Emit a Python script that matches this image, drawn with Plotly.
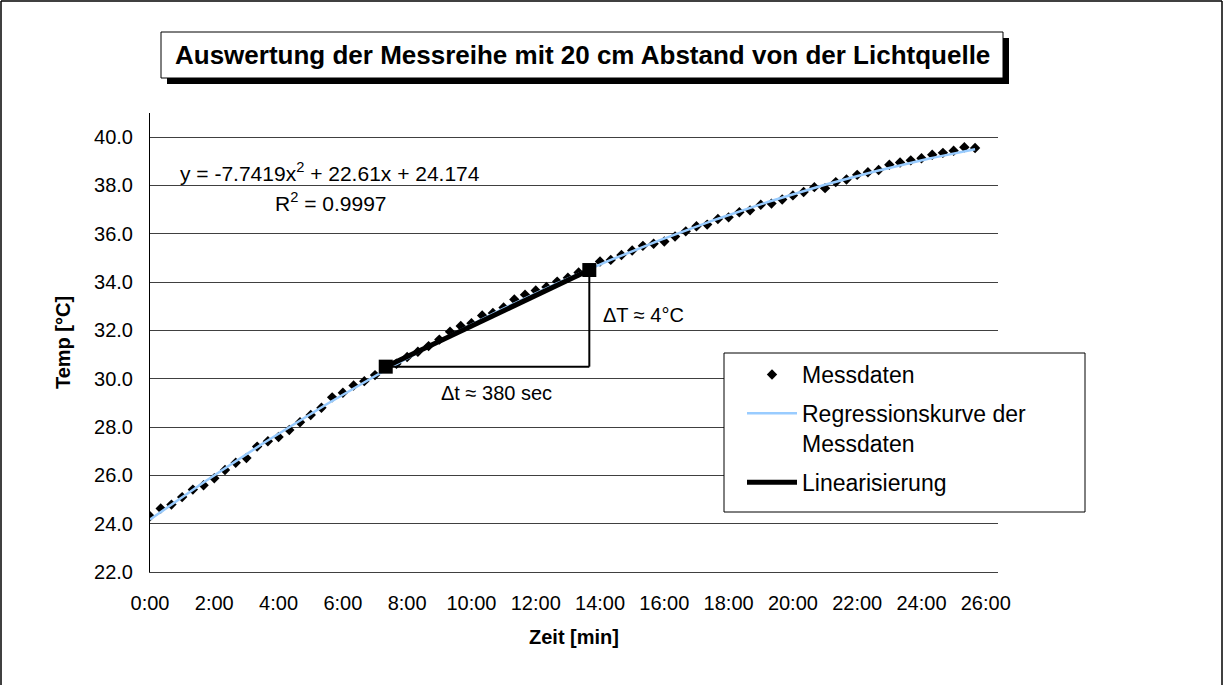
import numpy as np
import plotly.graph_objects as go

# ---------------- data ----------------
zeit_sec = [0, 20, 40, 60, 80, 100, 120, 140, 160, 180, 200, 220, 240, 260, 280, 300,
            320, 340, 360, 380, 400, 420, 440, 460, 480, 500, 520, 540, 560, 580, 600,
            620, 640, 660, 680, 700, 720, 740, 760, 780, 800, 820, 840, 860, 880, 900,
            920, 940, 960, 980, 1000, 1020, 1040, 1060, 1080, 1100, 1120, 1140, 1160,
            1180, 1200, 1220, 1240, 1260, 1280, 1300, 1320, 1340, 1360, 1380, 1400,
            1420, 1440, 1460, 1480, 1500, 1520, 1540]
temp_c = [24.31, 24.63, 24.79, 25.10, 25.41, 25.59, 25.88, 26.22, 26.52, 26.72,
          27.19, 27.41, 27.59, 27.88, 28.20, 28.50, 28.80, 29.23, 29.42, 29.72,
          29.90, 30.15,
          30.45, 30.62, 30.90, 31.12, 31.35, 31.62, 31.95, 32.18, 32.30, 32.62,
          32.72, 32.95, 33.28, 33.48, 33.65, 33.80, 34.02, 34.18, 34.40, 34.55,
          34.85, 34.92, 35.12, 35.31, 35.50, 35.59, 35.68, 35.89, 36.10, 36.31,
          36.38, 36.61, 36.68, 36.89, 36.97, 37.20, 37.25, 37.42,
          37.59, 37.73, 37.93, 37.89, 38.14, 38.25, 38.44, 38.55, 38.64, 38.86,
          38.95, 39.04, 39.13, 39.27, 39.35, 39.44, 39.58, 39.55]

lin_sec = [440, 820]          # 7:20 and 13:40  (delta t = 380 s)
lin_temp = [30.5, 34.5]       # delta T = 4 °C

# Excel trendline (x = displayed h:mm value in days, i.e. minutes / 24)
reg_a, reg_b, reg_c = -7.7419, 22.61, 24.174

x_tick_min = [0, 2, 4, 6, 8, 10, 12, 14, 16, 18, 20, 22, 24, 26]
x_tick_text = ["0:00", "2:00", "4:00", "6:00", "8:00", "10:00", "12:00", "14:00",
               "16:00", "18:00", "20:00", "22:00", "24:00", "26:00"]
y_ticks = [22, 24, 26, 28, 30, 32, 34, 36, 38, 40]

# ---------------- derived ----------------
t_min = [s / 60 for s in zeit_sec]
lin_min = [s / 60 for s in lin_sec]
t_fit = np.linspace(min(t_min), max(t_min), 200)
u = t_fit / 24.0
y_fit = reg_a * u ** 2 + reg_b * u + reg_c

FONT = "Liberation Sans, Arial, sans-serif"
W, H = 1224, 685
L, R, T, B = 150, 998, 113, 572


def px(x):
    return (x - L) / (R - L)


def py(y):
    return (B - y) / (B - T)


fig = go.Figure()
fig.add_trace(go.Scatter(
    x=t_min, y=temp_c, mode="markers", name="Messdaten", legendgroup="a",
    marker=dict(symbol="diamond", size=8, color="black"),
))
fig.add_trace(go.Scatter(
    x=t_fit, y=y_fit, mode="lines", name="Regressionskurve der<br>Messdaten",
    legendgroup="b", line=dict(color="#99CCFF", width=2.5),
))
fig.add_trace(go.Scatter(
    x=lin_min, y=lin_temp, mode="lines", name="Linearisierung", legendgroup="c",
    line=dict(color="black", width=5),
))
fig.add_trace(go.Scatter(
    x=lin_min, y=lin_temp, mode="markers", showlegend=False, legendgroup="c",
    marker=dict(symbol="square", size=14, color="black"),
))

shapes = []
# outer chart border (left, top, right)
for x0, y0, x1, y1 in [(1, 1, 1, 700), (1, 1, 1222, 1), (1222, 1, 1222, 700)]:
    shapes.append(dict(type="line", xref="paper", yref="paper",
                       x0=px(x0), y0=py(y0), x1=px(x1), y1=py(y1),
                       line=dict(color="black", width=1.5)))
# title box with shadow
shapes.append(dict(type="rect", xref="paper", yref="paper",
                   x0=px(167), y0=py(38), x1=px(1009), y1=py(84),
                   fillcolor="black", line=dict(width=0)))
shapes.append(dict(type="rect", xref="paper", yref="paper",
                   x0=px(161), y0=py(32), x1=px(1003), y1=py(78),
                   fillcolor="white", line=dict(color="black", width=1)))
# legend box
shapes.append(dict(type="rect", xref="paper", yref="paper", layer="above",
                   x0=px(724), y0=py(353), x1=px(1085), y1=py(512),
                   fillcolor="white", line=dict(color="black", width=1)))
# delta triangle
shapes.append(dict(type="line", xref="x", yref="y",
                   x0=lin_min[0], y0=lin_temp[0], x1=lin_min[1], y1=lin_temp[0],
                   line=dict(color="black", width=2)))
shapes.append(dict(type="line", xref="x", yref="y",
                   x0=lin_min[1], y0=lin_temp[0], x1=lin_min[1], y1=lin_temp[1],
                   line=dict(color="black", width=2)))

annotations = [
    dict(text="<b>Auswertung der Messreihe mit 20 cm Abstand von der Lichtquelle</b>",
         x=px(582), y=py(55), font=dict(size=26, color="black", family=FONT)),
    dict(text="y = -7.7419x<sup>2</sup> + 22.61x + 24.174",
         x=px(330), y=py(172), font=dict(size=21, color="black", family=FONT)),
    dict(text="R<sup>2</sup> = 0.9997",
         x=px(331), y=py(202), font=dict(size=21, color="black", family=FONT)),
    dict(text="ΔT ≈ 4°C",
         x=px(643), y=py(315), font=dict(size=20, color="black", family=FONT)),
    dict(text="Δt ≈ 380 sec",
         x=px(496), y=py(393), font=dict(size=20, color="black", family=FONT)),
]
for a in annotations:
    a.update(xref="paper", yref="paper", showarrow=False,
             xanchor="center", yanchor="middle")

fig.update_layout(
    width=W, height=H, autosize=False,
    margin=dict(l=L, r=W - R, t=T, b=H - B, pad=0),
    paper_bgcolor="white", plot_bgcolor="white",
    font=dict(family=FONT, color="black", size=20),
    showlegend=True,
    legend=dict(x=px(742), y=py(353), xanchor="left", yanchor="top",
                bgcolor="rgba(0,0,0,0)", borderwidth=0,
                font=dict(size=23, family=FONT, color="black"),
                tracegroupgap=6, itemwidth=50, valign="top"),
    shapes=shapes,
    annotations=annotations,
    xaxis=dict(range=[0, 26.38], tickmode="array", tickvals=x_tick_min,
               ticktext=x_tick_text, showgrid=False, zeroline=False,
               showline=True, linecolor="#404040", linewidth=1, ticks="",
               tickfont=dict(size=20), ticklabelstandoff=13,
               title=dict(text="<b>Zeit [min]</b>", font=dict(size=20), standoff=16)),
    yaxis=dict(range=[22, 41], tickmode="array", tickvals=y_ticks, tickformat=".1f",
               showgrid=True, gridcolor="#404040", gridwidth=1, zeroline=False,
               showline=True, linecolor="black", linewidth=1, ticks="",
               tickfont=dict(size=20), ticklabelstandoff=12,
               title=dict(text="<b>Temp [°C]</b>", font=dict(size=20), standoff=18)),
)

fig.write_html(
    "out.html",
    config={"displayModeBar": False},
    post_script="document.body.style.margin='0';document.body.style.overflow='hidden';",
)
